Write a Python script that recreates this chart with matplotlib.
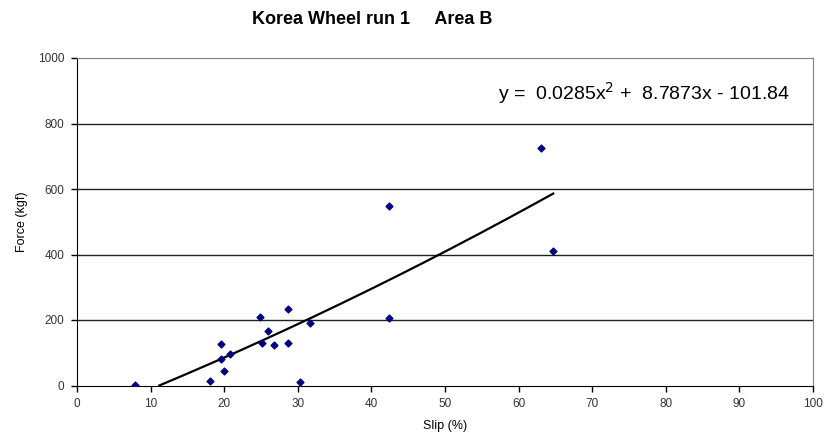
import numpy as np
import matplotlib.pyplot as plt

# slip (%) and force (kgf)
slip = [7.9, 18.1, 19.6, 19.6, 20.0, 20.8, 24.8, 25.2, 25.9, 26.8,
        28.7, 28.7, 30.3, 31.6, 42.4, 42.4, 63.0, 64.7]
force = [3, 14, 127, 80, 43, 97, 210, 130, 167, 124,
         235, 130, 11, 190, 549, 207, 725, 411]

# polynomial trendline as printed on the chart
coef = [0.0285, 8.7873, -101.84]

x_ticks = [0, 10, 20, 30, 40, 50, 60, 70, 80, 90, 100]
y_ticks = [0, 200, 400, 600, 800, 1000]

plt.rcParams['font.family'] = ['Liberation Sans', 'DejaVu Sans']

fig = plt.figure(figsize=(8.26, 4.41), dpi=100)
W, H = 826, 441
ax = fig.add_axes([77 / W, 1 - 385.5 / H, (813 - 77) / W, (385.5 - 58) / H])

for yv in y_ticks[1:-1]:
    ax.axhline(yv, color='#202020', lw=1.0, zorder=1)

# trendline from its zero crossing to the largest slip value
root = max(np.roots(coef))
xt = np.linspace(root, max(slip), 200)
ax.plot(xt, np.polyval(coef, xt), color='black', lw=1.6, zorder=2)

ax.scatter(slip, force, marker='D', s=12, color='#000080', zorder=3)

ax.set_xlim(0, 100)
ax.set_ylim(0, 1000)
ax.set_xticks(x_ticks)
ax.set_yticks(y_ticks)
ax.tick_params(direction='out', length=4, width=1, labelsize=8.5, colors='black', pad=5)
for lab in ax.get_xticklabels() + ax.get_yticklabels():
    lab.set_color('#333333')

ax.spines['left'].set_color('black')
ax.spines['bottom'].set_color('black')
ax.spines['top'].set_color('#808080')
ax.spines['right'].set_color('#808080')

ax.set_xlabel('Slip (%)', fontsize=9, labelpad=7)
ax.set_ylabel('Force (kgf)', fontsize=9, labelpad=7)

fig.text(372 / W, 1 - 19 / H, 'Korea Wheel run 1     Area B', ha='center', va='center',
         fontsize=13, fontweight='bold')
fig.text(790 / W, 1 - 93 / H, r'y =  0.0285x$^2$ +  8.7873x - 101.84', ha='right', va='center',
         fontsize=14)

fig.savefig('out.png', dpi=100)
